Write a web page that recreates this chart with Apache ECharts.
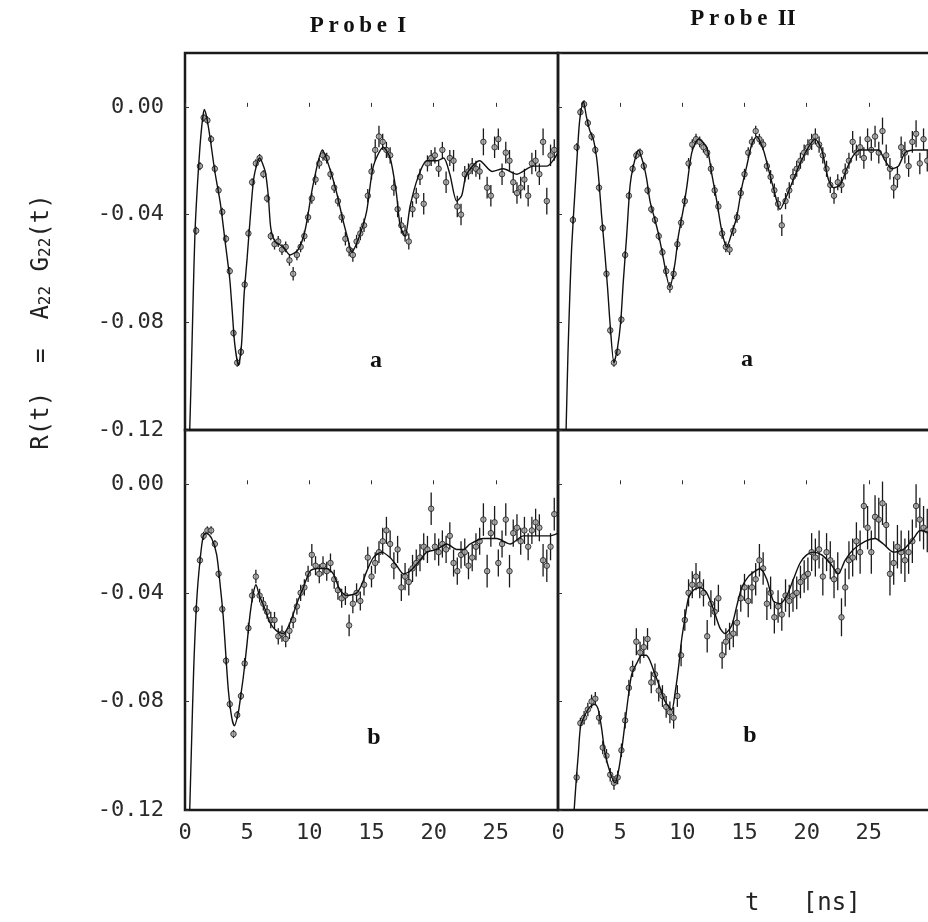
<!DOCTYPE html>
<html><head><meta charset="utf-8">
<script src="https://cdn.jsdelivr.net/npm/echarts/dist/echarts.min.js"></script>
<style>html,body{margin:0;padding:0;background:#fff}#c{width:928px;height:922px}</style>
</head><body><div id="c"></div>
<script>
// channel times [ns]
const TIME = [0.3,0.6,0.9,1.2,1.5,1.8,2.1,2.4,2.7,3.0,
3.3,3.6,3.9,4.2,4.5,4.8,5.1,5.4,5.7,6.0,
6.3,6.6,6.9,7.2,7.5,7.8,8.1,8.4,8.7,9.0,
9.3,9.6,9.9,10.2,10.5,10.8,11.1,11.4,11.7,12.0,
12.3,12.6,12.9,13.2,13.5,13.8,14.1,14.4,14.7,15.0,
15.3,15.6,15.9,16.2,16.5,16.8,17.1,17.4,17.7,18.0,
18.3,18.6,18.9,19.2,19.5,19.8,20.1,20.4,20.7,21.0,
21.3,21.6,21.9,22.2,22.5,22.8,23.1,23.4,23.7,24.0,
24.3,24.6,24.9,25.2,25.5,25.8,26.1,26.4,26.7,27.0,
27.3,27.6,27.9,28.2,28.5,28.8,29.1,29.4,29.7];

// R(t) values in units of 1e-3
const VAL_IA = [null,null,-46,-22,-4,-5,-12,-23,-31,-39,
-49,-61,-84,-95,-91,-66,-47,-28,-21,-19,
-25,-34,-48,-51,-50,-53,-52,-57,-62,-55,
-52,-48,-41,-34,-27,-21,-18,-19,-25,-30,
-35,-41,-49,-53,-55,-50,-47,-44,-33,-24,
-16,-11,-13,-16,-18,-30,-38,-44,-47,-50,
-38,-33,-26,-36,-21,-19,-18,-23,-16,-28,
-19,-20,-37,-40,-25,-24,-22,-23,-24,-13,
-30,-33,-15,-12,-25,-17,-20,-28,-32,-30,
-27,-33,-21,-20,-25,-13,-35,-18,-16];
const ERR_IA = [0,0,1.5,1.5,1.5,1.5,1.5,1.5,1.5,1.5,
1.5,1.5,1.5,1.5,1.5,1.5,1.5,1.5,1.5,1.5,
1.5,1.5,1.5,2,2,2,2,2,2.5,2,
2,2,2,2,2,2,2,2,2,2,
2,2,2.5,2.5,2.5,2.5,2.5,2.5,2.5,3,
4,4,3,3,3,3,3,3,3,3,
3,3,3,4,3,3,3,3,3,4,
3,4,4,4,3,3,3,3,3,5,
4,4,4,4,4,4,4,4,4,4,
4,4,4,4,4,5,5,4,4];

const VAL_IIA = [null,null,null,-42,-15,-2,1,-6,-11,-16,
-30,-45,-62,-83,-95,-91,-79,-55,-33,-23,
-18,-17,-22,-31,-38,-42,-48,-54,-61,-67,
-62,-51,-43,-35,-21,-14,-12,-13,-15,-17,
-23,-31,-37,-47,-52,-53,-46,-41,-32,-25,
-17,-13,-9,-12,-14,-22,-26,-31,-36,-44,
-35,-31,-26,-23,-20,-17,-15,-13,-11,-14,
-18,-23,-29,-33,-28,-29,-24,-20,-13,-17,
-15,-19,-12,-16,-11,-17,-9,-18,-23,-30,
-26,-15,-17,-22,-13,-10,-21,-12,-20];
const ERR_IIA = [0,0,0,1.5,1.5,1.5,1.5,1.5,1.5,1.5,
1.5,1.5,1.5,1.5,1.5,1.5,1.5,1.5,1.5,1.5,
1.5,1.5,1.5,1.5,1.5,1.5,1.5,1.5,2,2,
2,2,2,2,2,2,2,2,2,2,
2,2,2,2,2,2,2,2,2,2,
2,2,2,2,2,2,2.5,2.5,2.5,4,
3,3,3,3,3,3,3,3,3,3,
3,3,3,3,3,3,3,3,4,3,
4,4,4,4,4,4,5,4,4,4,
4,4,4,4,4,5,4,4,4];

const VAL_IB = [null,null,-46,-28,-19,-17,-17,-22,-33,-46,
-65,-81,-92,-85,-78,-66,-53,-41,-34,-41,
-44,-47,-50,-50,-56,-55,-57,-54,-50,-45,
-40,-38,-33,-26,-30,-33,-30,-32,-29,-35,
-39,-42,-41,-52,-44,-40,-43,-37,-27,-34,
-29,-25,-21,-17,-22,-30,-24,-38,-34,-36,
-31,-29,-27,-23,-24,-9,-23,-25,-22,-24,
-19,-29,-32,-26,-25,-30,-27,-23,-21,-13,
-32,-18,-14,-29,-22,-13,-32,-18,-16,-21,
-17,-23,-17,-14,-16,-28,-30,-23,-11];
const ERR_IB = [0,0,1.5,1.5,1.5,1.5,1.5,1.5,1.5,1.5,
1.5,1.5,1.5,1.5,1.5,2,2,2.5,2.5,2.5,
2.5,2.5,3,3,3,3,3,3,3,3,
3,3,3,4,3.5,3.5,3.5,3.5,3.5,3.5,
3.5,3.5,3.5,4,3.5,3.5,3.5,4,4,4,
4,4,5,5,5,5,5,5,5,5,
5,5,5,5,5,6,5,5,5,5,
5,5,5,5,5,5,5,5,5,6,
6,5,6,5,5,6,6,5,5,5,
5,5,5,5,5,6,6,5,6];

const VAL_IIB = [null,null,null,null,-108,-88,-86,-83,-80,-79,
-86,-97,-100,-107,-110,-108,-98,-87,-75,-68,
-58,-62,-60,-57,-73,-70,-76,-78,-82,-84,
-86,-78,-63,-50,-40,-37,-34,-37,-40,-56,
-44,-47,-42,-63,-58,-56,-55,-51,-42,-38,
-43,-38,-35,-28,-31,-44,-40,-49,-45,-48,
-41,-43,-41,-40,-36,-34,-33,-25,-27,-24,
-34,-25,-28,-35,-32,-49,-38,-28,-27,-21,
-25,-8,-16,-25,-12,-13,-7,-15,-33,-29,
-23,-25,-28,-25,-21,-8,-13,-16,-17];
const ERR_IIB = [0,0,0,0,2,2,2.5,2.5,2.5,2.5,
2.5,2.5,2.5,2.5,2.5,2.5,2.5,3,3,3,
5,4,4,4,4,4,4,4,4,4,
4,4,4,4,5,5,5,5,5,6,
5,5,5,5,5,5,5,5,5,5,
6,6,6,6,6,6,6,6,6,6,
6,6,6,6,6,6,6,7,7,7,
7,7,7,7,7,7,7,7,7,7,
8,8,8,8,8,8,8,8,8,8,
8,8,8,8,8,8,8,8,8];

// fitted curves [t, value*1e3]
const FIT_IA = [[0.38,-120],[0.5,-100],[0.65,-72],[0.8,-47],[1.0,-29],[1.2,-15],[1.4,-5],[1.55,-1],[1.75,-4],[2.0,-11],[2.4,-24],[2.85,-36],[3.2,-49],[3.6,-64],[3.8,-76],[4.0,-88],[4.3,-96],[4.55,-88],[4.75,-70],[5.0,-56],[5.25,-41],[5.55,-26],[6.0,-19],[6.45,-24],[6.7,-33],[6.9,-45],[7.25,-50],[7.9,-52],[8.45,-55],[9.1,-53],[9.65,-46],[10.3,-29],[11.05,-16],[11.65,-23],[12.2,-32],[12.7,-42],[13.15,-50],[13.4,-54],[13.95,-49],[14.6,-39],[15.15,-22],[15.95,-15],[16.5,-19],[17.0,-32],[17.3,-44],[17.7,-48],[18.1,-37],[18.75,-26],[19.45,-20],[20.25,-20],[20.8,-19],[21.3,-25],[21.85,-35],[22.25,-33],[22.65,-25],[23.7,-20],[24.7,-24],[25.6,-23],[26.7,-25],[28.0,-22],[29.1,-22],[30,-17]];
const FIT_IIA = [[0.65,-120],[0.8,-92],[0.95,-70],[1.1,-52],[1.37,-31],[1.64,-11],[1.77,-4],[2.04,2],[2.3,-4],[2.57,-9],[2.84,-12],[3.11,-19],[3.3,-28],[3.5,-40],[3.78,-55],[4.0,-68],[4.18,-80],[4.5,-95],[4.77,-90],[5.04,-80],[5.25,-65],[5.52,-48],[5.8,-29],[6.06,-22],[6.46,-16],[6.86,-21],[7.14,-27],[7.4,-35],[7.8,-42],[8.07,-47],[8.34,-53],[9.0,-67],[9.41,-58],[9.68,-48],[10.08,-38],[10.35,-30],[10.76,-17],[11.3,-12],[11.96,-15],[12.37,-25],[12.77,-35],[13.17,-46],[13.57,-52],[13.97,-47],[14.37,-41],[14.78,-30],[15.18,-22],[15.58,-14],[15.98,-11],[16.52,-16],[16.92,-23],[17.32,-30],[17.86,-38],[18.4,-33],[18.93,-27],[19.47,-21],[20.14,-15],[20.68,-12],[21.21,-16],[21.75,-27],[22.15,-30],[22.7,-29],[23.22,-23],[23.76,-18],[24.3,-16],[25.1,-16],[25.77,-16],[26.31,-20],[26.85,-23],[27.38,-22],[27.92,-17],[28.6,-16],[30,-16]];
const FIT_IB = [[0.38,-120],[0.5,-100],[0.7,-68],[0.94,-43],[1.21,-28],[1.47,-19],[1.74,-18],[2.15,-20],[2.55,-26],[2.87,-39],[3.08,-49],[3.3,-64],[3.49,-76],[3.76,-86],[3.97,-89],[4.29,-84],[4.48,-78],[4.69,-71],[4.96,-60],[5.23,-48],[5.5,-40],[5.71,-37],[5.98,-41],[6.44,-46],[6.84,-51],[7.37,-54],[7.91,-55],[8.45,-51],[8.99,-44],[9.52,-38],[10.06,-32],[10.59,-31],[11.4,-31],[11.93,-33],[12.47,-39],[13.0,-41],[13.81,-40],[14.21,-37],[14.62,-32],[15.15,-27],[15.82,-25],[16.49,-27],[17.03,-30],[17.56,-33],[18.1,-32],[18.9,-28],[19.44,-25],[20.25,-24],[21.05,-22],[21.86,-24],[22.39,-24],[22.93,-22],[24.0,-20],[25.08,-20],[26.15,-22],[27.22,-19],[28.29,-19],[29.36,-19],[30,-18]];
const FIT_IIB = [[1.3,-120],[1.45,-110],[1.64,-99],[1.82,-89],[2.17,-85],[2.57,-82],[2.98,-81],[3.24,-83],[3.51,-90],[3.78,-99],[4.18,-106],[4.59,-110],[4.85,-106],[5.12,-98],[5.39,-88],[5.66,-78],[5.93,-70],[6.33,-66],[6.73,-63],[7.08,-63],[7.4,-65],[7.8,-70],[8.21,-75],[8.61,-80],[9.15,-83],[9.41,-77],[9.68,-68],[9.95,-57],[10.22,-49],[10.49,-42],[10.89,-39],[11.42,-38],[11.96,-40],[12.5,-46],[13.03,-53],[13.43,-55],[13.97,-52],[14.37,-45],[14.78,-38],[15.31,-34],[15.85,-32],[16.25,-31],[16.79,-35],[17.32,-43],[17.86,-44],[18.4,-41],[18.93,-35],[19.47,-29],[20.0,-26],[20.54,-25],[21.21,-26],[21.88,-29],[22.55,-33],[23.09,-28],[23.76,-24],[24.7,-21],[25.5,-20],[26.17,-22],[26.98,-25],[27.78,-24],[28.59,-20],[29.12,-17],[30,-18]];

const COLUMN_TITLES = ['P\u2009r\u2009o\u2009b\u2009e\u2009 I', 'P\u2009r\u2009o\u2009b\u2009e\u2009 II'];
const PANEL_LETTERS = ['a', 'a', 'b', 'b'];
const X_MIN = 0, X_MAX = 30, X_STEP = 5;
const Y_MIN = -0.12, Y_MAX = 0.02, Y_STEP = 0.04;
const UNIT = 0.001;

const chart = echarts.init(document.getElementById('c'), null, {renderer: 'canvas'});

const panels = [
  {vals: VAL_IA, errs: ERR_IA, fit: FIT_IA, left: 185, top: 53, h: 377, yl: true, xl: false},
  {vals: VAL_IIA, errs: ERR_IIA, fit: FIT_IIA, left: 558, top: 53, h: 377, yl: false, xl: false},
  {vals: VAL_IB, errs: ERR_IB, fit: FIT_IB, left: 185, top: 430, h: 380, yl: true, xl: true},
  {vals: VAL_IIB, errs: ERR_IIB, fit: FIT_IIB, left: 558, top: 430, h: 380, yl: false, xl: true}
];

const tickFont = {fontFamily: '"DejaVu Sans Mono"', fontSize: 22, color: '#2a2a2a'};
const grids = [], xAxes = [], yAxes = [], series = [];

panels.forEach((p, i) => {
  grids.push({left: p.left, top: p.top, width: 373, height: p.h, show: true,
    borderColor: '#1a1a1a', borderWidth: 2.5, backgroundColor: 'transparent',
    containLabel: false, outerBoundsMode: 'none'});
  xAxes.push({type: 'value', gridIndex: i, min: X_MIN, max: X_MAX, interval: X_STEP,
    axisLine: {show: false}, splitLine: {show: false},
    axisTick: {show: true, inside: true, length: 4, lineStyle: {color: '#333', width: 1}},
    axisLabel: Object.assign({show: p.xl, margin: 12, showMaxLabel: false,
      formatter: v => (v >= X_MAX ? '' : String(v))}, tickFont)});
  yAxes.push({type: 'value', gridIndex: i, min: Y_MIN, max: Y_MAX, interval: Y_STEP,
    axisLine: {show: false}, splitLine: {show: false},
    axisTick: {show: true, inside: true, length: 4, lineStyle: {color: '#333', width: 1}},
    axisLabel: Object.assign({show: p.yl, margin: 21, showMaxLabel: false,
      formatter: v => (v > 0.005 ? '' : (Math.abs(v) < 1e-9 ? '0.00' : v.toFixed(2)))}, tickFont)});

  const pts = [], bars = [];
  TIME.forEach((t, k) => {
    const v = p.vals[k];
    if (v === null) return;
    pts.push([t, v * UNIT]);
    bars.push([t, (v - p.errs[k]) * UNIT, (v + p.errs[k]) * UNIT]);
  });

  series.push({type: 'custom', xAxisIndex: i, yAxisIndex: i, clip: true, z: 2,
    data: bars, encode: {x: 0, y: [1, 2]},
    renderItem: (params, api) => {
      const a = api.coord([api.value(0), api.value(1)]);
      const b = api.coord([api.value(0), api.value(2)]);
      return {type: 'line', shape: {x1: a[0], y1: a[1], x2: b[0], y2: b[1]},
        style: {stroke: '#1a1a1a', lineWidth: 1.3}};
    }});
  series.push({type: 'scatter', xAxisIndex: i, yAxisIndex: i, z: 3, data: pts,
    symbol: 'circle', symbolSize: 5.5,
    itemStyle: {color: '#9c9c9c', borderColor: '#1a1a1a', borderWidth: 1}});
  series.push({type: 'line', xAxisIndex: i, yAxisIndex: i, z: 4, clip: true,
    data: p.fit.map(q => [q[0], q[1] * UNIT]), smooth: 0.25, showSymbol: false,
    lineStyle: {color: '#111', width: 1.4}});
});

const serifBold = 'bold 23px "Liberation Serif"';
const letterFont = 'bold 24px "Liberation Serif"';
function centered(x, y, text, font) {
  return {type: 'text', x: x, y: y, style: {text: text, font: font, fill: '#111',
    align: 'center', verticalAlign: 'middle', textAlign: 'center', textVerticalAlign: 'middle'}};
}
const graphic = [
  centered(358, 26, COLUMN_TITLES[0], serifBold),
  centered(743, 19, COLUMN_TITLES[1], serifBold),
  centered(376, 361, PANEL_LETTERS[0], letterFont),
  centered(747, 360, PANEL_LETTERS[1], letterFont),
  centered(374, 738, PANEL_LETTERS[2], letterFont),
  centered(750, 736, PANEL_LETTERS[3], letterFont),
  {type: 'text', x: 42, y: 322, rotation: Math.PI / 2,
    style: {text: '{n|R(t)  =  A}{s|22}{n| G}{s|22}{n|(t)}', fill: '#222',
      align: 'center', verticalAlign: 'middle', textAlign: 'center', textVerticalAlign: 'middle',
      rich: {
        n: {fontFamily: '"DejaVu Sans Mono"', fontSize: 24, lineHeight: 24, padding: [0, 0, 4, 0], verticalAlign: 'top', fill: '#222', color: '#222'},
        s: {fontFamily: '"DejaVu Sans Mono"', fontSize: 16, lineHeight: 16, verticalAlign: 'bottom', fill: '#222', color: '#222'}
      }}},
  {type: 'text', x: 745, y: 904, style: {text: 't   [ns]', font: '24px "DejaVu Sans Mono"', fill: '#222',
    align: 'left', verticalAlign: 'middle', textAlign: 'left', textVerticalAlign: 'middle'}}
];

chart.setOption({animation: false, backgroundColor: '#fff', grid: grids, xAxis: xAxes, yAxis: yAxes,
  series: series, graphic: graphic});
</script>
</body></html>
